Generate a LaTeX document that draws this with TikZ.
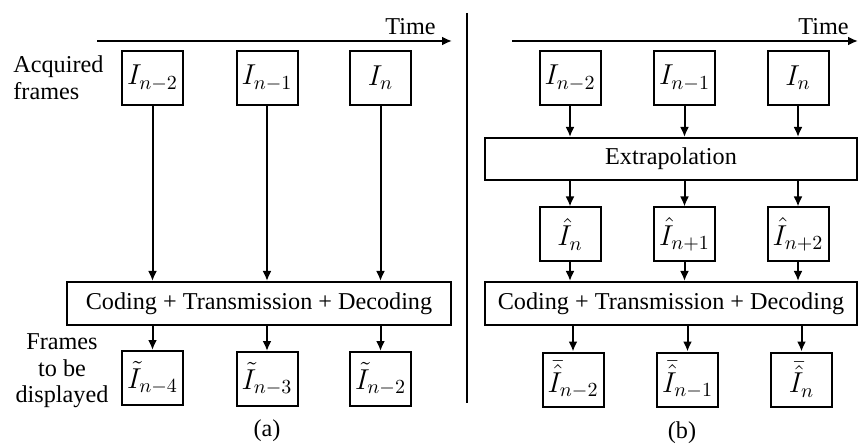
\documentclass[tikz,border=0pt]{standalone}
\usepackage{amsmath,amssymb}
\usepackage{fontspec}
\setmainfont{Liberation Serif}
\usetikzlibrary{arrows.meta,positioning}

\begin{document}
\begin{tikzpicture}[x=0.5pt, y=-0.5pt, >={Latex[length=5pt,width=4.5pt]},
    every node/.style={font=\fontsize{12.1}{13.3}\selectfont}]
    \useasboundingbox (0,0) rectangle (858,444);
    \tikzset{frame/.style={draw, line width=1pt, minimum width=30.5pt, minimum height=27pt, inner sep=0pt,
                           font=\fontsize{14}{16}\selectfont},
             stage/.style={draw, line width=1pt, minimum height=21.5pt, inner sep=0pt},
             flow/.style={->, line width=1pt}}

    % Time axes
    \coordinate (ta0) at (97,41);
    \coordinate (ta1) at (452,41);
    \coordinate (tb0) at (512,41);
    \coordinate (tb1) at (858,41);
    \draw[flow] (ta0) -- (ta1);
    \draw[flow] (tb0) -- (tb1);
    \node[anchor=base east, inner sep=0pt] (timeA) at (436,35) {Time};
    \node[anchor=base east, inner sep=0pt] (timeB) at (849,35) {Time};

    % Separator
    \draw[line width=1pt] (467,13) -- (467,403);

    % (a) without extrapolation
    \node[align=left, anchor=west, inner sep=0pt] (acq) at (13,78) {Acquired\\frames};
    \node[align=center, inner sep=0pt] (disp) at (62,371) {Frames\\to be\\displayed};

    \node[frame] (a1) at (152.5,78) {$I_{n-2}$};
    \node[frame] (a2) at (267,78) {$I_{n-1}$};
    \node[frame] (a3) at (380.5,78) {$I_n$};
    \node[stage, minimum width=192pt] (codeA) at (259,303.5) {Coding + Transmission + Decoding};
    \node[frame] (a4) at (152.5,378) {$\tilde{I}_{n-4}$};
    \node[frame] (a5) at (267,379) {$\tilde{I}_{n-3}$};
    \node[frame] (a6) at (380.5,379) {$\tilde{I}_{n-2}$};

    \foreach \i in {1,2,3} {
        \draw[flow] (a\i) -- (a\i |- codeA.north);
    }
    \foreach \i in {4,5,6} {
        \draw[flow] (codeA.south -| a\i) -- (a\i);
    }
    \node (labA) at (267,431) {(a)};

    % (b) with extrapolation
    \node[frame] (b1) at (570,78) {$I_{n-2}$};
    \node[frame] (b2) at (684.5,78) {$I_{n-1}$};
    \node[frame] (b3) at (798,78) {$I_n$};
    \node[stage, minimum width=186pt, minimum height=21pt] (extra) at (671,159) {Extrapolation};
    \node[frame] (b4) at (570,234.5) {$\hat{I}_{n}$};
    \node[frame] (b5) at (684.5,234.5) {$\hat{I}_{n+1}$};
    \node[frame] (b6) at (798,234.5) {$\hat{I}_{n+2}$};
    \node[stage, minimum width=186pt] (codeB) at (671,303.5) {Coding + Transmission + Decoding};
    \node[frame] (b7) at (573,379.5) {$\bar{\hat{I}}_{n-2}$};
    \node[frame] (b8) at (687.5,379.5) {$\bar{\hat{I}}_{n-1}$};
    \node[frame] (b9) at (801.5,379.5) {$\bar{\hat{I}}_{n}$};

    \foreach \i in {1,2,3} {
        \draw[flow] (b\i) -- (b\i |- extra.north);
    }
    \foreach \i in {4,5,6} {
        \draw[flow] (extra.south -| b\i) -- (b\i);
        \draw[flow] (b\i) -- (b\i |- codeB.north);
    }
    \foreach \i in {7,8,9} {
        \draw[flow] (codeB.south -| b\i) -- (b\i);
    }
    \node (labB) at (682,433) {(b)};
\end{tikzpicture}
\end{document}
